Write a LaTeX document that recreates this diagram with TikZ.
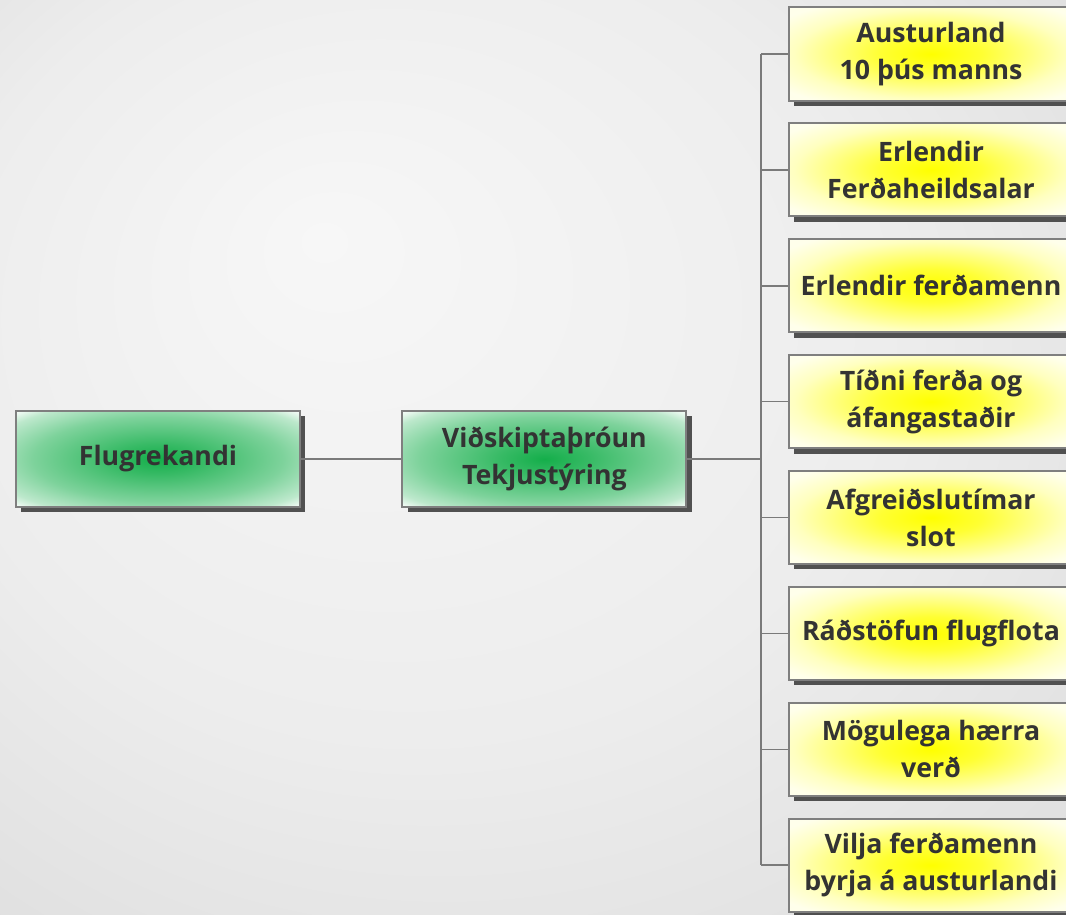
\documentclass[tikz,border=0pt]{standalone}
\usepackage{fontspec}
\setmainfont{Open Sans}
\usetikzlibrary{shadows}

\definecolor{boxline}{HTML}{7F7F7F}
\definecolor{linkgray}{HTML}{7A7A7A}
\definecolor{txtgray}{HTML}{333333}
\definecolor{greencore}{HTML}{14AE4A}
\definecolor{yellowcore}{HTML}{FFFF00}
\definecolor{bglight}{HTML}{F7F7F7}
\definecolor{bgmid}{HTML}{EDEDED}
\definecolor{bgdark}{HTML}{D4D4D4}

\pgfdeclareradialshading{greenglow}{\pgfpoint{0bp}{0bp}}{color(0bp)=(greencore); color(8bp)=(greencore!85!white); color(22bp)=(greencore!55!white); color(31bp)=(greencore!28!white); color(34bp)=(greencore!10!white); color(36bp)=(white); color(50bp)=(white)}
\pgfdeclareradialshading{yellowglow}{\pgfpoint{0bp}{0bp}}{color(0bp)=(yellowcore); color(9bp)=(yellowcore!80!white); color(24bp)=(yellowcore!25!white); color(32bp)=(yellowcore!8!white); color(50bp)=(yellowcore!5!white)}
\pgfdeclareradialshading{bgglow}{\pgfpoint{-10bp}{12bp}}{color(0bp)=(bglight); color(22bp)=(bgmid); color(50bp)=(bgdark)}

\tikzset{
  topbox/.style={draw=boxline, line width=1.4pt, shading=greenglow,
    minimum width=7.1cm, minimum height=2.4cm, align=center, text=txtgray,
    font=\fontsize{19}{26.5}\selectfont\bfseries,
    drop shadow={shadow xshift=3.8pt, shadow yshift=-3.8pt, fill=black!75, opacity=0.9}},
  leafbox/.style={topbox, shading=yellowglow, minimum height=2.33cm},
  link/.style={draw=linkgray, line width=1.1pt}
}

\begin{document}
\begin{tikzpicture}
\useasboundingbox (0,0) rectangle (26.65,22.85);
\shade[shading=bgglow] (0,0) rectangle (26.65,22.85);

% main chain
\node[topbox] (flug) at (3.95,11.375) {Flugrekandi};
\node[topbox] (vidsk) at (13.61,11.375) {Viðskiptaþróun\\Tekjustýring};
\coordinate (trunk) at (19.025,11.375);

% right column
\foreach \i/\txt in {1/{Austurland\\10 þús manns}, 2/{Erlendir\\Ferðaheildsalar},
    3/{Erlendir ferðamenn}, 4/{Tíðni ferða og\\áfangastaðir}, 5/{Afgreiðslutímar\\slot},
    6/{Ráðstöfun flugflota}, 7/{Mögulega hærra\\verð}, 8/{Vilja ferðamenn\\byrja á austurlandi}}
  \node[leafbox] (leaf\i) at (23.275,{21.5-2.897*(\i-1)}) {\txt};

% connectors
\draw[link] (flug.east) -- (vidsk.west);
\draw[link] (vidsk.east) -- (trunk);
\draw[link] (trunk |- leaf1.west) -- (trunk |- leaf8.west);
\foreach \i in {1,...,8}
  \draw[link] (trunk |- leaf\i.west) -- (leaf\i.west);
\end{tikzpicture}
\end{document}
